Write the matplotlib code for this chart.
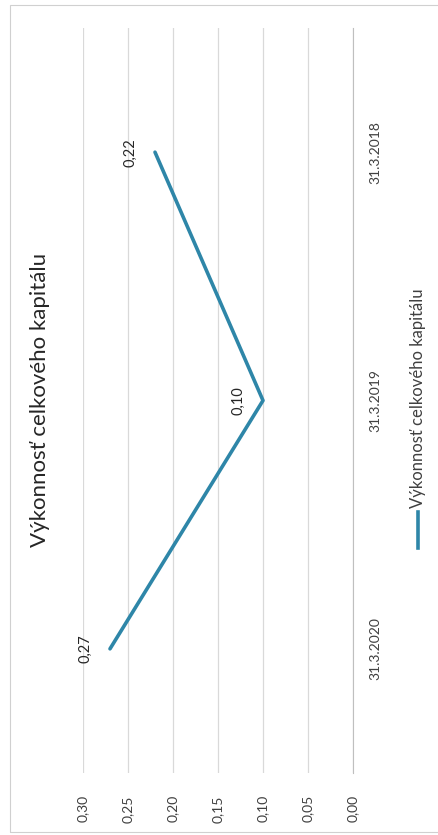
import matplotlib
matplotlib.use("Agg")
import matplotlib.pyplot as plt
from matplotlib.lines import Line2D
from matplotlib.patches import Rectangle

plt.rcParams['font.family'] = ['Lato', 'DejaVu Sans']

categories = ["31.3.2020", "31.3.2019", "31.3.2018"]
values = [0.27, 0.10, 0.22]
value_labels = ["0,27", "0,10", "0,22"]
ticks = [0.00, 0.05, 0.10, 0.15, 0.20, 0.25, 0.30]
tick_labels = ["0,00", "0,05", "0,10", "0,15", "0,20", "0,25", "0,30"]
title = "Výkonnosť celkového kapitálu"
series_name = "Výkonnosť celkového kapitálu"

color = "#2E86A8"
grid_c = "#d9d9d9"

fig = plt.figure(figsize=(4.38, 8.35), dpi=100)
fig.patch.set_facecolor("white")
fig.add_artist(Rectangle((10/438, 3/835), 1 - 10/438 + 0.01, 1 - 8/835,
                         transform=fig.transFigure, fill=False,
                         edgecolor="#d0d0d0", linewidth=0.8))

ax = fig.add_axes([83/438, 1 - 773/835, (353 - 83)/438, (773 - 28)/835])
pos = list(range(len(categories)))
ax.plot(values, pos, color=color, linewidth=2.6, solid_capstyle="round")
for v, p, lab in zip(values, pos, value_labels):
    ax.annotate(lab, (v, p), xytext=(-18, 0), textcoords="offset points",
                rotation=90, ha="center", va="center", fontsize=10.5, color="#262626")

ax.set_xlim(0.30, 0.0)
ax.set_ylim(-0.5, len(categories) - 0.5)
ax.set_xticks(ticks)
ax.set_xticklabels(tick_labels, rotation=90, fontsize=10, color="#404040")
ax.tick_params(axis="x", length=0, pad=16)
ax.yaxis.tick_right()
ax.set_yticks(pos)
ax.set_yticklabels(categories, rotation=90, fontsize=10, color="#404040", va="center")
ax.tick_params(axis="y", length=0, pad=12)
ax.grid(axis="x", color=grid_c, linewidth=0.9)
for s in ["top", "bottom", "left"]:
    ax.spines[s].set_visible(False)
ax.spines["right"].set_color("#bfbfbf")
ax.set_facecolor("none")

fig.text(40/438, 1 - 400/835, title, rotation=90, ha="center", va="center",
         fontsize=16, color="#262626")

# legend
fig.add_artist(Line2D([418/438, 418/438], [1 - 548/835, 1 - 512/835],
                      color=color, linewidth=2.6, transform=fig.transFigure))
fig.text(418/438, 1 - 508/835, series_name, rotation=90, ha="center", va="bottom",
         fontsize=12, color="#404040")

fig.savefig("out.png", dpi=100)
